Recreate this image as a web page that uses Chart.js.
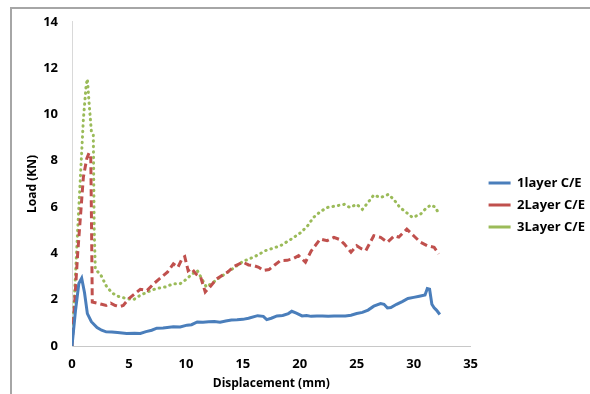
<!DOCTYPE html>
<html>
<head>
<meta charset="utf-8">
<script src="https://cdn.jsdelivr.net/npm/chart.js@4"></script>
<style>
  html, body { margin: 0; padding: 0; background: #fff; overflow: hidden; }
  #wrap { position: relative; width: 590px; height: 394px; overflow: hidden; }
  #frame { position: absolute; left: 10px; top: 7px; width: 600px; height: 400px; border-top: 2px solid #a6a6a6; border-left: 2px solid #a6a6a6; }
  canvas { position: absolute; left: 0; top: 0; }
</style>
</head>
<body>
<div id="wrap">
  <div id="frame"></div>
  <canvas id="chartLoad" width="590" height="394"></canvas>
</div>
<script>
var seriesNames = ['1layer C/E', '2Layer C/E', '3Layer C/E'];

var blueX = [0, 0.3, 0.6, 0.85, 1.1, 1.35, 1.7, 2.2, 2.6, 3.0, 3.5, 4.0, 4.8, 5.5, 6.0, 6.5, 7.0, 7.45, 8.0, 8.9,
    9.5, 10.1, 10.5, 11.0, 11.5, 12.0, 12.5, 13.0, 13.5, 14.0, 14.5, 15.0, 15.5, 16.3, 16.8, 17.1, 17.5, 18.0, 18.5, 19.0,
    19.3, 19.7, 20.2, 20.6, 21.0, 21.5, 22.0, 22.5, 23.0, 23.5, 24.0, 24.5, 25.0, 25.5, 26.0, 26.5, 27.1, 27.4, 27.7, 28.0,
    28.5, 29.0, 29.5, 30.0, 30.5, 31.0, 31.2, 31.4, 31.6, 31.8, 32.0, 32.3];
var blueY = [0, 1.5, 2.7, 2.93, 2.3, 1.4, 1.05, 0.8, 0.68, 0.61, 0.6, 0.58, 0.54, 0.55, 0.54, 0.62, 0.68, 0.77, 0.78, 0.83,
    0.82, 0.9, 0.92, 1.04, 1.03, 1.05, 1.06, 1.03, 1.08, 1.12, 1.13, 1.15, 1.2, 1.31, 1.28, 1.14, 1.2, 1.3, 1.32, 1.4,
    1.5, 1.42, 1.3, 1.32, 1.28, 1.3, 1.3, 1.28, 1.3, 1.3, 1.3, 1.33, 1.4, 1.45, 1.55, 1.72, 1.83, 1.8, 1.64, 1.66,
    1.8, 1.92, 2.05, 2.1, 2.15, 2.2, 2.48, 2.45, 1.8, 1.65, 1.55, 1.36];

var redX = [0, 0.5, 1.0, 1.3, 1.5, 1.65, 1.72, 1.78, 2.2, 2.6, 3.0, 3.4, 3.8, 4.2, 4.5, 5.0, 5.5, 6.0, 6.6, 7.2,
    7.8, 8.4, 8.9, 9.3, 9.7, 9.9, 10.2, 10.5, 10.9, 11.3, 11.7, 12.2, 12.7, 13.2, 13.7, 14.2, 15.0, 15.5, 15.9, 16.4,
    16.8, 17.3, 17.8, 18.3, 18.9, 19.4, 19.9, 20.5, 21.0, 21.8, 22.4, 23.0, 23.5, 23.9, 24.5, 25.0, 25.4, 25.8, 26.5, 27.1,
    27.7, 28.3, 28.7, 29.4, 30.0, 30.6, 31.2, 31.8, 32.2];
var redY = [0, 4.0, 7.3, 8.1, 8.34, 8.1, 5.0, 1.9, 1.85, 1.8, 1.75, 1.85, 1.75, 1.7, 1.75, 2.05, 2.25, 2.45, 2.4, 2.7,
    2.95, 3.2, 3.55, 3.4, 3.8, 3.86, 3.25, 3.35, 3.1, 2.97, 2.33, 2.6, 2.9, 3.05, 3.2, 3.43, 3.62, 3.5, 3.48, 3.4,
    3.26, 3.3, 3.5, 3.69, 3.7, 3.77, 3.9, 3.62, 4.1, 4.62, 4.55, 4.69, 4.6, 4.41, 4.05, 4.33, 4.2, 4.12, 4.76, 4.69,
    4.48, 4.76, 4.7, 5.05, 4.76, 4.48, 4.33, 4.26, 3.98];

var greenX = [0, 0.5, 1.0, 1.25, 1.35, 1.5, 1.7, 1.87, 1.95, 2.05, 2.5, 3.0, 3.5, 4.0, 4.8, 5.4, 6.0, 6.7, 7.4, 8.2,
    8.9, 9.5, 10.1, 10.4, 11.0, 11.4, 11.8, 12.4, 13.0, 14.0, 15.0, 16.0, 17.0, 18.3, 19.2, 20.1, 20.7, 21.2, 21.8, 22.4,
    23.2, 23.9, 24.4, 25.0, 25.5, 26.0, 26.5, 27.1, 27.8, 28.3, 28.8, 29.4, 29.9, 30.6, 31.0, 31.5, 31.9, 32.2];
var greenY = [0, 5.0, 9.8, 11.3, 11.53, 10.5, 9.27, 9.13, 5.0, 3.3, 3.1, 2.6, 2.3, 2.15, 2.05, 2.0, 2.19, 2.35, 2.48, 2.55,
    2.69, 2.69, 2.9, 3.05, 3.26, 2.9, 2.55, 2.75, 2.97, 3.3, 3.65, 3.85, 4.12, 4.33, 4.6, 4.9, 5.2, 5.55, 5.8, 5.98,
    6.05, 6.12, 5.98, 6.12, 5.9, 6.2, 6.52, 6.41, 6.55, 6.3, 5.98, 5.75, 5.55, 5.69, 5.9, 6.09, 6.0, 5.72];

function toPoints(xs, ys) {
    return xs.map(function (x, i) { return { x: x, y: ys[i] }; });
}

var tickFont = { family: 'Open Sans', size: 13, weight: 'bold' };
var labelFont = { family: 'Open Sans', size: 12, weight: 'bold' };
var legendFont = { family: 'Open Sans', size: 13, weight: 'bold' };

// nudge the legend to the right/down, like the original figure
var legendShift = {
    id: 'legendShift',
    afterLayout: function (chart) {
        var lg = chart.legend;
        lg.left += 9;
        lg.right += 9;
        lg.top += 3;
        lg.bottom += 3;
    }
};

var chartLoad = new Chart(document.getElementById('chartLoad'), {
    type: 'scatter',
    data: {
        datasets: [{
            label: seriesNames[0],
            data: toPoints(blueX, blueY),
            borderColor: '#4a7ebb',
            backgroundColor: '#4a7ebb',
            borderWidth: 3,
            pointStyle: 'line'
        }, {
            label: seriesNames[1],
            data: toPoints(redX, redY),
            borderColor: '#c0504d',
            backgroundColor: '#c0504d',
            borderWidth: 3,
            borderDash: [7, 4],
            pointStyle: 'line'
        }, {
            label: seriesNames[2],
            data: toPoints(greenX, greenY),
            borderColor: '#9bbb59',
            backgroundColor: '#9bbb59',
            borderWidth: 3,
            borderDash: [0.5, 5],
            borderCapStyle: 'round',
            pointStyle: 'line'
        }]
    },
    options: {
        responsive: false,
        animation: false,
        showLine: true,
        elements: {
            point: { radius: 0, hoverRadius: 0 },
            line: { tension: 0 }
        },
        layout: {
            padding: { left: 21, right: 4, top: 12, bottom: 2 }
        },
        scales: {
            x: {
                type: 'linear',
                min: 0,
                max: 35,
                ticks: { stepSize: 5, color: '#000', font: tickFont, padding: 10 },
                grid: { display: false, drawTicks: false },
                border: { display: true, color: '#c8c8c8', width: 1 },
                title: { display: true, text: 'Displacement (mm)', color: '#000', font: labelFont, padding: { top: 5, bottom: 1 } },
                afterFit: function (scale) { scale.height = 46; }
            },
            y: {
                min: 0,
                max: 14,
                ticks: { stepSize: 2, color: '#000', font: tickFont, padding: 14 },
                grid: { display: false, drawTicks: false },
                border: { display: true, color: '#d9d9d9', width: 1 },
                title: { display: true, text: 'Load (KN)', color: '#000', font: labelFont, padding: 4 },
                afterFit: function (scale) { scale.width = 51; }
            }
        },
        plugins: {
            legend: {
                position: 'right',
                labels: {
                    usePointStyle: true,
                    pointStyleWidth: 22,
                    color: '#000',
                    font: legendFont,
                    padding: 9
                }
            },
            tooltip: { enabled: false }
        }
    },
    plugins: [legendShift]
});
</script>
</body>
</html>
